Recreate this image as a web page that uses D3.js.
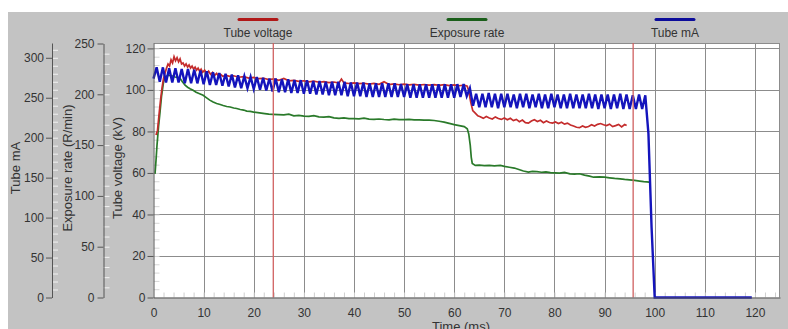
<!DOCTYPE html>
<html lang="en">
<head>
<meta charset="utf-8">
<title>Exposure waveform</title>
<script src="https://d3js.org/d3.v7.min.js"></script>
<style>
  body { margin: 0; background: #fff; }
  svg { display: block; font-family: "Liberation Sans", Arial, sans-serif; }
  .tick text { fill: #333; font-size: 12px; }
  .ttl { fill: #333; font-size: 13px; }
  .leg { fill: #333; font-size: 12px; }
</style>
</head>
<body>
<svg id="chart" width="788" height="329"></svg>
<script>
// ---- data ----
var seriesNames = ["Tube voltage", "Exposure rate", "Tube mA"]
var timeTicks = [0, 10, 20, 30, 40, 50, 60, 70, 80, 90, 100, 110, 120]
var kvTicks = [0, 20, 40, 60, 80, 100, 120]
var rateTicks = [0, 50, 100, 150, 200, 250]
var maTicks = [0, 50, 100, 150, 200, 250, 300]
var cursorTimes = [23.9, 95.7]

// tube voltage (kV) as [ms, kV]
var tubeVoltage = [[0.5,78.3],[0.8,80.5],[1.1,88],[1.4,95],[1.7,101],[2.0,105.5],[2.3,108],[2.6,110.5],[2.9,112.5],[3.2,111.5],
  [3.5,114.5],[3.8,113],[4.1,116],[4.4,114],[4.7,115.5],[5.0,113.5],[5.3,115],[5.6,112.5],[5.9,113],[6.2,111.5],
  [6.5,112.5],[6.8,111],[7.1,112],[7.4,110.5],[7.7,111.5],[8.0,110],[8.3,111],[8.6,109.5],[8.9,110.5],[9.2,109],
  [9.5,110],[9.8,108.5],[10.2,109.5],[10.6,108],[11,109],[11.4,107.5],[11.8,108.5],[12.2,107],[12.6,108],[13,106.5],
  [13.4,107.5],[13.8,106.6],[14.5,107],[15.2,106.5],[16,106.8],[17,106.1],[18,106.4],[19,105.7],[20,106],[21,105.4],
  [22,105.6],[23,105],[24,105.3],[25,104.6],[26,105.5],[27,104.4],[28,104.6],[29,104.1],[30,104.4],[31,103.9],
  [32,104.2],[33,103.7],[34,104],[35,103.5],[36,103.8],[37,103.3],[37.5,105.2],[38,103.4],[39,103.1],[40,103.4],
  [41,103],[42,103.2],[43,102.8],[44,103.1],[45,102.7],[46,103.9],[47,102.6],[48,102.9],[49,102.5],[50,102.8],
  [51,102.4],[52,102.7],[53,102.3],[54,102.6],[55,102.3],[56,102.5],[57,102.2],[58,102.5],[59,102.1],[60,102.4],
  [61,102],[62,102.3],[62.6,101.8],[62.9,99.5],[63.3,94],[63.7,90],[64.2,88.8],[64.7,87.5],[65.2,87.1],[65.8,86.3],
  [66.4,87.2],[67,86.5],[67.6,86],[68.2,87],[68.8,86.2],[69.4,85.8],[70,86.5],[70.6,85.6],[71.2,86.3],[71.8,85.2],
  [72.4,85.8],[73,84.7],[73.6,85.5],[74.2,84.2],[74.8,84],[75.4,85],[76,85.6],[76.6,84.8],[77.2,85.4],[77.8,84.2],
  [78.4,85],[79,84.3],[79.6,84],[80.2,84.6],[80.8,83.8],[81.4,84.4],[82,83.5],[82.6,84],[83.2,83.1],[83.8,82.6],
  [84.4,82],[85,81.8],[85.6,82.6],[86.2,82],[86.8,82.4],[87.4,83.2],[88,82.6],[88.6,83.4],[89.2,83.8],[89.8,83.2],
  [90.4,82.8],[91,83.5],[91.6,82.3],[92.2,82.8],[92.8,83.4],[93.4,82.2],[94,83.3],[94.4,82.8]]

// exposure rate (R/min) as [ms, R/min]
var exposureRate = [[0.3,121.7],[0.5,135],[0.7,150],[1.0,168],[1.3,182.5],[1.6,198],[2.0,212],[2.3,217],[2.8,218.5],[3.3,218.7],
  [3.8,218],[4.3,217],[4.8,216.5],[5.3,215.5],[5.8,212],[6.3,209],[6.8,207],[7.3,205.5],[7.9,204],[8.5,202],
  [9.2,200.5],[9.9,199],[10.6,196.5],[11.3,194],[11.9,192.4],[12.6,191],[13.3,190],[13.9,189],[14.6,188],[15.3,187.5],
  [16,186.5],[16.6,186],[17.3,185],[18,184.5],[18.6,183.5],[19.3,183.2],[20,182.5],[20.8,182],[21.5,181.5],[22.2,181],
  [23,180.5],[23.8,180.3],[24.9,180],[26,179.8],[27,180.4],[28,178.8],[29,179.3],[30,178.6],[31,178.2],[32,178.9],
  [33,177.8],[34,177.5],[35,178],[36,176.8],[37,176.3],[38,176.7],[39,176],[40,176],[41,175.8],[42,176.5],
  [43,175.5],[44,175.3],[45,175.7],[46,175.2],[47,174.9],[48,175.5],[49,175.1],[50,175],[51,175.3],[52,174.8],
  [53,174.9],[54,174.6],[55,174.5],[56,174.2],[57,173.5],[58,172.6],[59,171.4],[60,170.2],[61,169.2],[62,168.2],
  [62.6,166],[62.9,161],[63.2,149.7],[63.4,138],[63.6,132],[64.2,130],[65,130.3],[66,129.8],[67,130],[68,129.6],
  [69.2,130],[70,129],[71,128.2],[72,127.4],[72.9,126],[73.8,124.5],[74.8,123.5],[75.6,124.2],[76.5,123.8],[77.4,123.3],
  [78.3,123.6],[79.2,123],[80.1,122.7],[81,122.4],[82,123.2],[83.1,121.7],[84,121.5],[85,121.8],[86,120.5],[87,119.4],
  [87.8,118.4],[89,118.8],[90,118.4],[91,117.8],[92,117.2],[93.1,116.8],[94,116.2],[95,115.8],[96,115.2],[97,114.6],
  [97.8,114.1],[98.4,113.8],[98.9,113.5]]

// tube current (mA), one sample every 0.625 ms from t = 0
var maStep = 0.625
var tubeMA = [274,288,270,288,269,287,269,287,269,
  286,268,286,268,285,268,284,267,
  283,266,282,266,281,265,280,264,
  279,263,278,262,277,262,276,261,
  276,260,275,259,274,258,274,257,
  273,257,273,256,272,256,272,255,
  272,255,271,254,271,254,270,253,
  270,253,270,253,270,252,269,252,
  269,252,269,251,268,251,268,251,
  268,251,268,251,268,251,267,251,
  267,250,267,250,267,250,267,250,
  267,250,267,250,267,250,267,250,
  267,251,267,252,262,
  240,255,238,255,238,256,238,255,237,255,238,255,238,254,237,255,238,255,237,254,
  238,255,237,254,237,255,238,254,237,254,237,255,237,254,237,254,237,255,237,254,
  236,254,237,254,236,254,237,255,236,254,236,253,236,254,236,253,
  205,88,
  0,0,0,0,0,0,0,0,0,0,0,0,0,0,0,0,0,0,0,0,0,0,0,0,0,0,0,0,0,0,0,0]

var colors = { kv: "#c42c2c", rate: "#2a7a2a", ma: "#1414bc" }
var legendColors = ["#b01818", "#1a5e1a", "#0c0c9a"]

// ---- layout ----
var svg = d3.select("#chart")
var plot = { left: 153.5, right: 780, top: 43, bottom: 297.5 }

svg.append("rect").attr("x", 8).attr("y", 12).attr("width", 780).attr("height", 317).attr("fill", "#c3c3c3")
svg.append("rect").attr("x", plot.left).attr("y", plot.top)
  .attr("width", plot.right - plot.left).attr("height", plot.bottom - plot.top).attr("fill", "#fff")

var x = d3.scaleLinear().domain([0, 125]).range([plot.left, plot.right])
var yKV = d3.scaleLinear().domain([0, 122.6]).range([plot.bottom, plot.top])
var yRate = d3.scaleLinear().domain([0, 250]).range([plot.bottom, 43.5])
var yMA = d3.scaleLinear().domain([0, 318.5]).range([plot.bottom, plot.top])

// grid
var grid = svg.append("g").attr("stroke", "#8c8c8c").attr("stroke-width", 1)
grid.selectAll(".gx").data(timeTicks.filter(d => d > 0)).join("line")
  .attr("x1", d => Math.round(x(d)) + 0.5).attr("x2", d => Math.round(x(d)) + 0.5)
  .attr("y1", plot.top).attr("y2", plot.bottom)
grid.selectAll(".gy").data(kvTicks.filter(d => d > 0)).join("line")
  .attr("x1", plot.left).attr("x2", plot.right)
  .attr("y1", d => Math.round(yKV(d)) + 0.5).attr("y2", d => Math.round(yKV(d)) + 0.5)
svg.append("line").attr("x1", plot.left).attr("x2", plot.right).attr("y1", plot.top + 0.5).attr("y2", plot.top + 0.5).attr("stroke", "#8c8c8c")
svg.append("line").attr("x1", plot.right - 0.5).attr("x2", plot.right - 0.5).attr("y1", plot.top).attr("y2", plot.bottom).attr("stroke", "#8c8c8c")

// minor ticks inside plot
svg.append("g").attr("transform", "translate(0," + plot.bottom + ")")
  .call(d3.axisTop(x).tickValues(d3.range(2, 125, 2)).tickSize(5).tickFormat(""))
  .call(g => g.select(".domain").remove())
  .call(g => g.selectAll("line").attr("stroke", "#cfcfcf"))
svg.append("g").attr("transform", "translate(" + plot.left + ",0)")
  .call(d3.axisRight(yKV).tickValues(d3.range(4, 122, 4)).tickSize(6).tickFormat(""))
  .call(g => g.select(".domain").remove())
  .call(g => g.selectAll("line").attr("stroke", "#d6d6d6"))

// series
var lineKV = d3.line().x(d => x(d[0])).y(d => yKV(d[1]))
var lineRate = d3.line().x(d => x(d[0])).y(d => yRate(d[1]))
var lineMA = d3.line().x((d, i) => x(i * maStep)).y(d => yMA(d))

svg.append("path").datum(exposureRate).attr("d", lineRate)
  .attr("fill", "none").attr("stroke", colors.rate).attr("stroke-width", 1.7)
svg.append("path").datum(tubeVoltage).attr("d", lineKV)
  .attr("fill", "none").attr("stroke", colors.kv).attr("stroke-width", 1.7)
svg.append("path").datum(tubeMA).attr("d", lineMA)
  .attr("fill", "none").attr("stroke", colors.ma).attr("stroke-width", 2.4)

// cursors
svg.selectAll(".cursor").data(cursorTimes).join("line")
  .attr("x1", d => x(d)).attr("x2", d => x(d))
  .attr("y1", plot.top).attr("y2", plot.bottom)
  .attr("stroke", "#d06060").attr("stroke-width", 1.3)

// axes
function styleAxis(g) {
  g.select(".domain").attr("stroke", "#555")
  g.selectAll(".tick line").attr("stroke", "#555")
}
var xAxis = svg.append("g").attr("transform", "translate(0," + plot.bottom + ")")
  .call(d3.axisBottom(x).tickValues(timeTicks).tickSizeInner(0).tickSizeOuter(0).tickPadding(11))
xAxis.select(".domain").attr("stroke", "#555")

svg.append("g").attr("transform", "translate(" + plot.left + ",0)")
  .call(d3.axisLeft(yKV).tickValues(kvTicks).tickSizeInner(6).tickSizeOuter(0).tickPadding(2))
  .call(styleAxis)

// exposure rate axis
svg.append("g").attr("transform", "translate(103.5,0)")
  .call(d3.axisRight(yRate).tickValues(d3.range(10, 250, 10)).tickSize(6).tickFormat(""))
  .call(g => g.select(".domain").remove())
  .call(g => g.selectAll("line").attr("stroke", "#f2f2f2"))
svg.append("g").attr("transform", "translate(103.5,0)")
  .call(d3.axisLeft(yRate).tickValues(rateTicks).tickSizeInner(6).tickSizeOuter(0).tickPadding(3))
  .call(styleAxis)

// tube mA axis
svg.append("g").attr("transform", "translate(52,0)")
  .call(d3.axisRight(yMA).tickValues(d3.range(10, 318, 10)).tickSize(6).tickFormat(""))
  .call(g => g.select(".domain").remove())
  .call(g => g.selectAll("line").attr("stroke", "#f2f2f2"))
svg.append("g").attr("transform", "translate(52,0)")
  .call(d3.axisLeft(yMA).tickValues(maTicks).tickSizeInner(6).tickSizeOuter(0).tickPadding(2))
  .call(styleAxis)

svg.selectAll(".tick text").attr("fill", "#333").style("font-size", "12px")

// axis titles
var titles = [
  { text: "Tube mA", x: 20 },
  { text: "Exposure rate (R/min)", x: 72 },
  { text: "Tube voltage (kV)", x: 122 }
]
svg.selectAll(".ttl").data(titles).join("text").attr("class", "ttl")
  .attr("text-anchor", "middle")
  .attr("transform", d => "translate(" + d.x + ",168) rotate(-90)")
  .text(d => d.text)

svg.append("text").attr("class", "ttl").attr("text-anchor", "middle")
  .attr("x", 461).attr("y", 331).text("Time (ms)")

// legend
var legendX = [258, 467, 675]
var leg = svg.selectAll(".legitem").data(seriesNames).join("g")
  .attr("transform", (d, i) => "translate(" + legendX[i] + ",0)")
leg.append("line").attr("x1", -19).attr("x2", 19).attr("y1", 19.5).attr("y2", 19.5)
  .attr("stroke", (d, i) => legendColors[i]).attr("stroke-width", 3).attr("stroke-linecap", "round")
leg.append("text").attr("class", "leg").attr("text-anchor", "middle").attr("y", 37).text(d => d)
</script>
</body>
</html>
